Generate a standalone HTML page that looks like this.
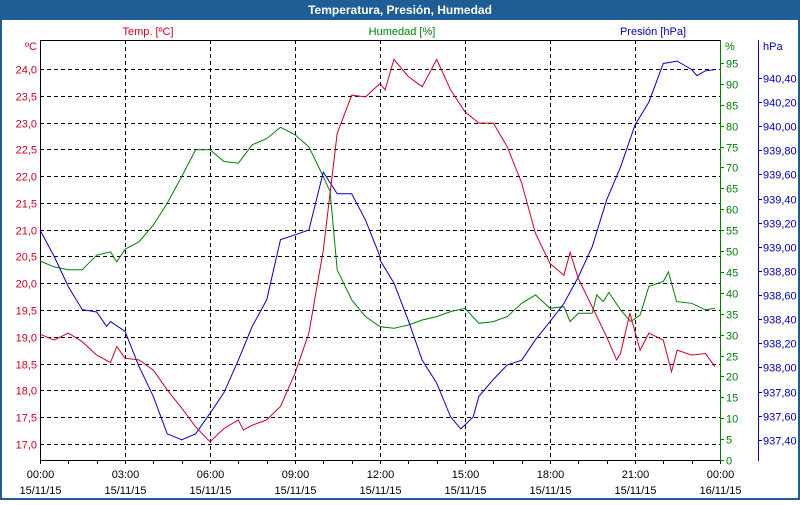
<!DOCTYPE html>
<html><head><meta charset="utf-8"><style>
body{margin:0;width:800px;height:500px;overflow:hidden;background:#fff;font-family:"Liberation Sans",sans-serif}
</style></head><body>
<svg id="c" width="800" height="500" xmlns="http://www.w3.org/2000/svg" font-family="Liberation Sans, sans-serif" font-size="11">
<rect x="0" y="0" width="800" height="500" fill="#1f5d96"/>
<rect x="2" y="20" width="796" height="478" fill="#fff"/>
<text x="400" y="14" text-anchor="middle" fill="#fff" font-weight="bold" font-size="12">Temperatura, Presión, Humedad</text>
<text x="148" y="35" text-anchor="middle" fill="#d00020">Temp. [ºC]</text>
<text x="402" y="35" text-anchor="middle" fill="#008000">Humedad [%]</text>
<text x="653" y="35" text-anchor="middle" fill="#0000c0">Presión [hPa]</text>
<text x="37" y="50" text-anchor="end" fill="#d00020">ºC</text>
<text x="725" y="50" fill="#008000">%</text>
<text x="763" y="50" fill="#0000c0">hPa</text>
<g id="grid"></g><g id="axes"></g><g id="series"></g>
</svg>
<script>
const tTime=[0,0.5,1,1.49,2,2.49,2.71,3,3.49,4,4.49,5,5.49,6,6.49,7,7.18,7.49,8,8.49,9,9.49,10,10.49,11,11.49,12,12.18,12.49,13,13.49,14,14.49,15,15.49,16,16.49,17,17.49,18,18.49,18.71,19,19.49,20,20.35,20.49,20.82,21.18,21.49,22,22.29,22.49,23,23.49,23.82];
const tempVals=[19.05,18.94,19.07,18.91,18.66,18.52,18.82,18.60,18.57,18.38,18.01,17.67,17.32,17.04,17.29,17.45,17.26,17.35,17.45,17.70,18.32,19.07,20.62,22.80,23.51,23.48,23.73,23.61,24.18,23.86,23.67,24.18,23.61,23.20,22.99,22.99,22.55,21.87,20.93,20.37,20.15,20.58,20.09,19.56,19.00,18.57,18.69,19.44,18.75,19.07,18.94,18.35,18.75,18.66,18.69,18.44];
const hTime=[0,0.5,1,1.49,2,2.49,2.71,3,3.49,4,4.49,5,5.49,6,6.49,7,7.49,8,8.49,9,9.49,10,10.24,10.49,11,11.49,12,12.49,13,13.49,14,14.49,15,15.49,16,16.49,17,17.49,18,18.49,18.71,19,19.49,19.65,19.88,20.08,20.49,20.85,21.18,21.49,22,22.18,22.47,23,23.49,23.82];
const humVals=[47.6,46.2,45.5,45.5,49.0,49.8,47.4,50.4,52.2,56.2,61.4,67.8,74.2,74.2,71.4,71.0,75.4,76.9,79.6,77.8,74.9,67.8,64.2,45.5,38.3,34.3,31.9,31.5,32.3,33.5,34.3,35.5,36.3,32.7,33.1,34.3,37.5,39.5,36.3,36.7,33.1,35.1,35.1,39.5,37.9,40.1,35.9,33.1,34.7,41.5,42.7,45.0,37.9,37.5,35.9,36.3];
const pTime=[0,0.5,1,1.49,2,2.35,2.49,3,3.49,4,4.49,5,5.49,6,6.49,7,7.49,8,8.49,9,9.49,10,10.49,11,11.49,12,12,12.49,13,13.49,14,14.49,14.85,15.29,15.49,16,16.49,17,17.49,18,18.49,19,19.49,20,20.49,21,21.49,22,22.49,23,23.18,23.49,23.82];
const presVals=[939.14,938.92,938.67,938.48,938.46,938.34,938.38,938.30,938.01,937.76,937.45,937.40,937.45,937.62,937.79,938.06,938.34,938.56,939.06,939.10,939.14,939.62,939.44,939.44,939.22,938.92,938.89,938.70,938.39,938.06,937.87,937.59,937.49,937.59,937.76,937.90,938.02,938.06,938.23,938.38,938.53,938.75,939.00,939.39,939.66,940.01,940.20,940.52,940.54,940.47,940.42,940.46,940.47];
const tempTicks=["17,0","17,5","18,0","18,5","19,0","19,5","20,0","20,5","21,0","21,5","22,0","22,5","23,0","23,5","24,0"];
const humTicks=[0,5,10,15,20,25,30,35,40,45,50,55,60,65,70,75,80,85,90,95];
const presTicks=["937,40","937,60","937,80","938,00","938,20","938,40","938,60","938,80","939,00","939,20","939,40","939,60","939,80","940,00","940,20","940,40"];
const timeTicks=["00:00","03:00","06:00","09:00","12:00","15:00","18:00","21:00","00:00"];
const dateTicks=["15/11/15","15/11/15","15/11/15","15/11/15","15/11/15","15/11/15","15/11/15","15/11/15","16/11/15"];

const L=40,R=720,T=40,B=460;
const xS=h=>L+h*(R-L)/24;
const yT=v=>69+(24-v)*53.57;
const yH=v=>460-v*4.18;
const yP=v=>78+(940.4-v)*120.6;
const NS="http://www.w3.org/2000/svg";
function mk(tag,at,parent,txt){const e=document.createElementNS(NS,tag);for(const k in at)e.setAttribute(k,at[k]);if(txt!=null)e.textContent=txt;document.getElementById(parent).appendChild(e);return e;}
// grid
tempTicks.forEach((s,i)=>{const v=17+i*0.5,y=Math.round(yT(v))+0.5;
 const g=mk('line',{x1:L,x2:R,y1:y,y2:y,stroke:'#000','stroke-dasharray':'4,3'},'grid');
 
 
 const t=mk('text',{x:37,y:y+4,'text-anchor':'end',fill:'#d00020'},'axes',s);
 
 
});
timeTicks.forEach((s,i)=>{const x=Math.round(xS(i*3))+0.5;
 if(i>0&&i<8){const g=mk('line',{x1:x,x2:x,y1:T,y2:B,stroke:'#000','stroke-dasharray':'4,3'},'grid');
  
  }
 const t=mk('text',{x:x,y:478,'text-anchor':'middle',fill:'#000'},'axes',s);
 
 
 const d=mk('text',{x:x,y:494,'text-anchor':'middle',fill:'#000'},'axes',dateTicks[i]);
 
 
});
for(let h=0;h<=24;h++){const x=Math.round(xS(h))+0.5;
 const k=mk('line',{x1:x,x2:x,y1:B,y2:B+4,stroke:'#000'},'axes');
 
 }
humTicks.forEach(v=>{const y=Math.round(yH(v))+0.5;
 const k=mk('line',{x1:R,x2:R+4,y1:y,y2:y,stroke:'#008000'},'axes');
 
 
 const t=mk('text',{x:726,y:y+4,fill:'#008000'},'axes',v);
 
 });
presTicks.forEach((s,i)=>{const v=937.4+i*0.2,y=Math.round(yP(v))+0.5;
 const k=mk('line',{x1:758,x2:762,y1:y,y2:y,stroke:'#0000c0'},'axes');
 
 
 const t=mk('text',{x:763,y:y+4,fill:'#0000c0'},'axes',s);
 
 });
const box=mk('path',{d:`M${R},${T+0.5}H${L+0.5}V${B+0.5}H${R}`,fill:'none',stroke:'#000'},'axes');


const ha=mk('line',{x1:R+0.5,x2:R+0.5,y1:T,y2:B+1,stroke:'#008000'},'axes');


const pa=mk('line',{x1:758.5,x2:758.5,y1:T,y2:B+1,stroke:'#0000c0'},'axes');


function line(ts,vs,yf,col,name){const d=ts.map((t,i)=>(i?'L':'M')+xS(t).toFixed(1)+','+yf(vs[i]).toFixed(1)).join('');
 const p=mk('path',{d:d,fill:'none',stroke:col,'stroke-width':1},'series');
 
 }
line(hTime,humVals,yH,'#008000','humidity-line');
line(pTime,presVals,yP,'#0000d0','pressure-line');
line(tTime,tempVals,yT,'#d00020','temperature-line');
</script>
</body></html>
